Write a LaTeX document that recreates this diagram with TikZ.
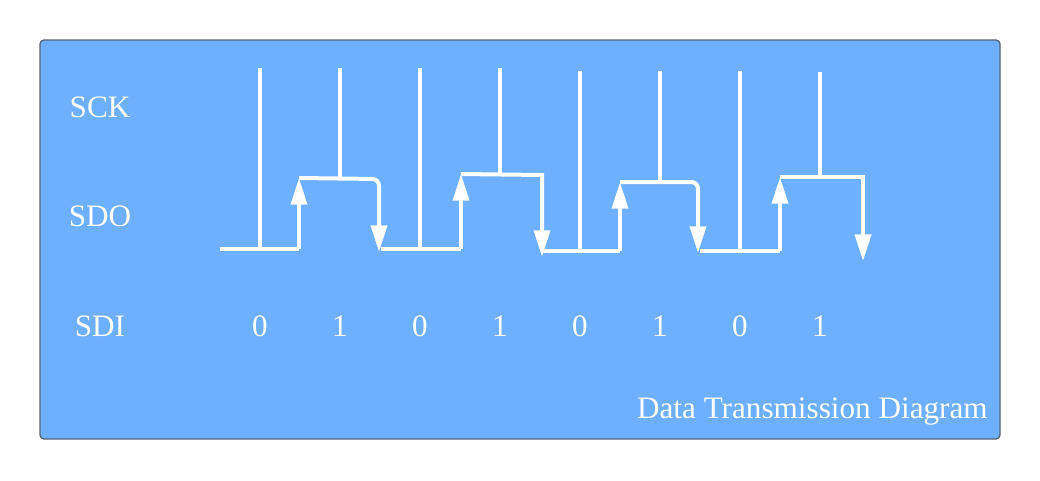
\documentclass[tikz,border=0pt]{standalone}
\usepackage{fontspec}
\setmainfont{Liberation Serif}
\usetikzlibrary{arrows.meta}
\definecolor{bgblue}{RGB}{108,176,255}
\definecolor{edgegray}{RGB}{90,100,115}
\begin{document}
\begin{tikzpicture}[x=0.75pt,y=-0.75pt,
  lbl/.style={text=white,inner sep=0pt,anchor=base,font=\fontsize{23.4pt}{28pt}\selectfont},
  clk/.style={draw=white,line width=3pt},
  sig/.style={draw=white,line width=3pt},
  sigarr/.style={sig,-{Triangle[width=12pt,length=20pt]}},
]
\useasboundingbox (0,0) rectangle (1040,480);
\draw[draw=edgegray,fill=bgblue,line width=1pt,rounded corners=3pt] (40,40) rectangle (1000,439);

% labels
\node[lbl] (sck) at (100,117) {SCK};
\node[lbl] (sdo) at (100,226) {SDO};
\node[lbl] (sdi) at (100,336) {SDI};
\foreach \x/\v [count=\i] in {260/0,340/1,420/0,500/1,580/0,660/1,740/0,820/1}
  \node[lbl] (bit\i) at (\x,336) {\v};
\node[lbl,anchor=base east] (title) at (988,418) {Data Transmission Diagram};

% clock coordinates
\coordinate (k1t) at (260,68); \coordinate (k1b) at (260,249);
\coordinate (k2t) at (340,68); \coordinate (k2b) at (340,179);
\coordinate (k3t) at (420,68); \coordinate (k3b) at (420,249);
\coordinate (k4t) at (500,68); \coordinate (k4b) at (500,175);
\coordinate (k5t) at (580,71); \coordinate (k5b) at (580,251);
\coordinate (k6t) at (660,71); \coordinate (k6b) at (660,182);
\coordinate (k7t) at (740,71); \coordinate (k7b) at (740,251);
\coordinate (k8t) at (820,72); \coordinate (k8b) at (820,177);
\foreach \i in {1,...,8} \draw[clk] (k\i t) -- (k\i b);

% data coordinates
\coordinate (a0) at (220,249); \coordinate (a1) at (299,249); \coordinate (a2) at (299,178);
\coordinate (a3) at (379,179); \coordinate (a4) at (379,252);
\coordinate (b0) at (381,249); \coordinate (b1) at (461,249); \coordinate (b2) at (461,174);
\coordinate (b3) at (542,175); \coordinate (b4) at (542,257);
\coordinate (c0) at (543,251); \coordinate (c1) at (620,251); \coordinate (c2) at (620,182);
\coordinate (c3) at (698,182); \coordinate (c4) at (698,253);
\coordinate (d0) at (700,251); \coordinate (d1) at (780,251); \coordinate (d2) at (780,177);
\coordinate (d3) at (863,177); \coordinate (d4) at (863,261);

\draw[sig] (a0) -- (a1);
\draw[sigarr] (a1) -- (a2);
\draw[sigarr,rounded corners=5pt] (a2) -- (a3) -- (a4);
\draw[sig] (b0) -- (b1);
\draw[sigarr] (b1) -- (b2);
\draw[sigarr] (b2) -- (b3) -- (b4);
\draw[sig] (c0) -- (c1);
\draw[sigarr] (c1) -- (c2);
\draw[sigarr,rounded corners=5pt] (c2) -- (c3) -- (c4);
\draw[sig] (d0) -- (d1);
\draw[sigarr] (d1) -- (d2);
\draw[sigarr] (d2) -- (d3) -- (d4);
\end{tikzpicture}
\end{document}
